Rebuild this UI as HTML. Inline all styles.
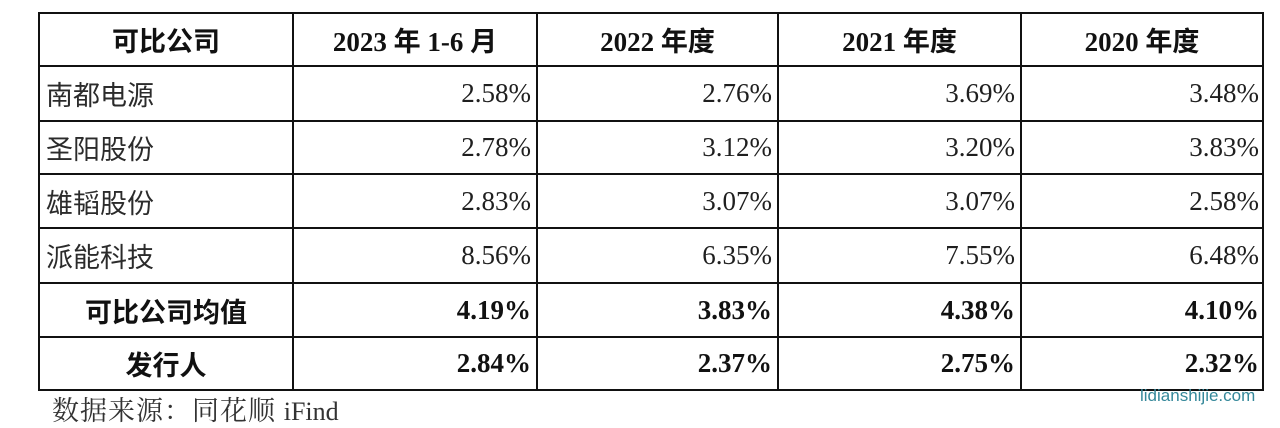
<!DOCTYPE html>
<html>
<head>
<meta charset="utf-8">
<style>
html,body{margin:0;padding:0;background:#fff;}
body{width:1280px;height:428px;position:relative;overflow:hidden;}
.h{position:absolute;height:2px;background:#111;left:38px;width:1226px;}
.v{position:absolute;width:2px;background:#111;top:12px;height:379px;}
.c{position:absolute;display:flex;align-items:center;box-sizing:border-box;font-size:27px;color:#1a1a1a;white-space:nowrap;}
.hd{justify-content:center;font-family:"Liberation Serif","Noto Sans CJK SC",serif;font-weight:bold;color:#111;}
.nm{justify-content:flex-start;padding-left:6px;font-family:"Liberation Sans","Noto Sans CJK SC",sans-serif;color:#2b2b2b;font-weight:400;}
.num{justify-content:flex-end;padding-right:5px;font-family:"Liberation Serif",serif;color:#1f1f1f;}
.b{font-weight:bold;color:#111;}
.ctr{justify-content:center;font-family:"Liberation Sans","Noto Sans CJK SC",sans-serif;font-weight:bold;color:#111;}
.foot{position:absolute;left:52px;top:396px;font-size:27px;font-family:"Liberation Serif","Noto Serif CJK SC",serif;color:#333;white-space:nowrap;line-height:30px;letter-spacing:1px;}
.wm{position:absolute;left:1140px;top:385px;font-size:17px;font-family:"Liberation Sans",sans-serif;color:#35889a;line-height:22px;}
</style>
</head>
<body>
<div class="h" style="top:12px"></div>
<div class="h" style="top:65px"></div>
<div class="h" style="top:120px"></div>
<div class="h" style="top:173px"></div>
<div class="h" style="top:227px"></div>
<div class="h" style="top:282px"></div>
<div class="h" style="top:336px"></div>
<div class="h" style="top:389px"></div>
<div class="v" style="left:38px"></div>
<div class="v" style="left:292px"></div>
<div class="v" style="left:536px"></div>
<div class="v" style="left:777px"></div>
<div class="v" style="left:1020px"></div>
<div class="v" style="left:1262px"></div>

<div class="c ctr" style="left:40px;width:252px;top:14px;height:51px;">可比公司</div>
<div class="c hd" style="left:294px;width:242px;top:14px;height:51px;">2023 年 1-6 月</div>
<div class="c hd" style="left:538px;width:239px;top:14px;height:51px;">2022 年度</div>
<div class="c hd" style="left:779px;width:241px;top:14px;height:51px;">2021 年度</div>
<div class="c hd" style="left:1022px;width:240px;top:14px;height:51px;">2020 年度</div>

<div class="c nm" style="left:40px;width:252px;top:67px;height:53px;">南都电源</div>
<div class="c num" style="left:294px;width:242px;top:67px;height:53px;">2.58%</div>
<div class="c num" style="left:538px;width:239px;top:67px;height:53px;">2.76%</div>
<div class="c num" style="left:779px;width:241px;top:67px;height:53px;">3.69%</div>
<div class="c num" style="left:1022px;width:240px;top:67px;height:53px;padding-right:3px;">3.48%</div>

<div class="c nm" style="left:40px;width:252px;top:122px;height:51px;">圣阳股份</div>
<div class="c num" style="left:294px;width:242px;top:122px;height:51px;">2.78%</div>
<div class="c num" style="left:538px;width:239px;top:122px;height:51px;">3.12%</div>
<div class="c num" style="left:779px;width:241px;top:122px;height:51px;">3.20%</div>
<div class="c num" style="left:1022px;width:240px;top:122px;height:51px;padding-right:3px;">3.83%</div>

<div class="c nm" style="left:40px;width:252px;top:175px;height:52px;">雄韬股份</div>
<div class="c num" style="left:294px;width:242px;top:175px;height:52px;">2.83%</div>
<div class="c num" style="left:538px;width:239px;top:175px;height:52px;">3.07%</div>
<div class="c num" style="left:779px;width:241px;top:175px;height:52px;">3.07%</div>
<div class="c num" style="left:1022px;width:240px;top:175px;height:52px;padding-right:3px;">2.58%</div>

<div class="c nm" style="left:40px;width:252px;top:229px;height:53px;">派能科技</div>
<div class="c num" style="left:294px;width:242px;top:229px;height:53px;">8.56%</div>
<div class="c num" style="left:538px;width:239px;top:229px;height:53px;">6.35%</div>
<div class="c num" style="left:779px;width:241px;top:229px;height:53px;">7.55%</div>
<div class="c num" style="left:1022px;width:240px;top:229px;height:53px;padding-right:3px;">6.48%</div>

<div class="c ctr" style="left:40px;width:252px;top:284px;height:52px;">可比公司均值</div>
<div class="c num b" style="left:294px;width:242px;top:284px;height:52px;">4.19%</div>
<div class="c num b" style="left:538px;width:239px;top:284px;height:52px;">3.83%</div>
<div class="c num b" style="left:779px;width:241px;top:284px;height:52px;">4.38%</div>
<div class="c num b" style="left:1022px;width:240px;top:284px;height:52px;padding-right:3px;">4.10%</div>

<div class="c ctr" style="left:40px;width:252px;top:338px;height:51px;">发行人</div>
<div class="c num b" style="left:294px;width:242px;top:338px;height:51px;">2.84%</div>
<div class="c num b" style="left:538px;width:239px;top:338px;height:51px;">2.37%</div>
<div class="c num b" style="left:779px;width:241px;top:338px;height:51px;">2.75%</div>
<div class="c num b" style="left:1022px;width:240px;top:338px;height:51px;padding-right:3px;">2.32%</div>

<div class="foot">数据来源：同花顺 <span style="font-size:26px;letter-spacing:0">iFind</span></div>
<div class="wm">lidianshijie.com</div>
</body>
</html>
